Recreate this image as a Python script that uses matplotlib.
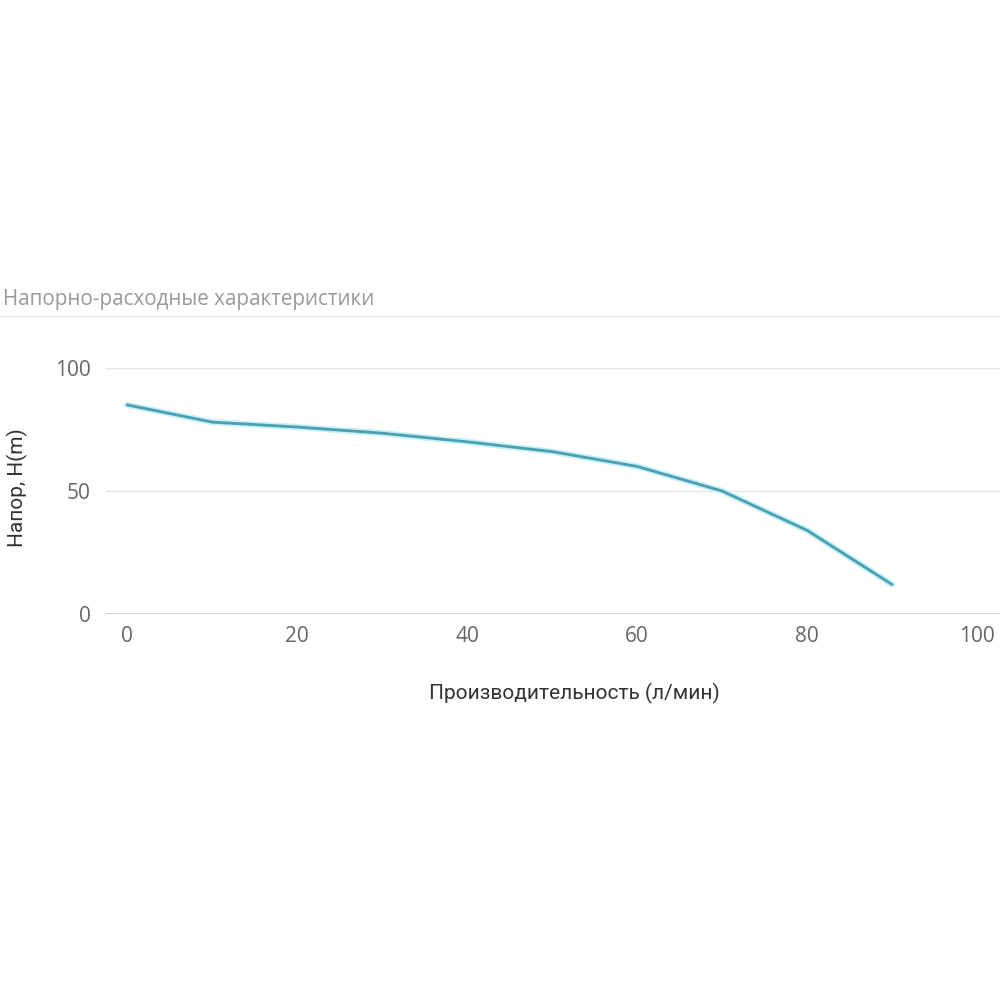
import matplotlib
matplotlib.use('Agg')
import matplotlib.pyplot as plt

flow = [0, 10, 20, 30, 40, 50, 60, 70, 80, 90]
head = [85, 78, 76, 73.5, 70, 66, 60, 50, 34, 12]
x_ticks = [0, 20, 40, 60, 80, 100]
y_ticks = [0, 50, 100]

title = 'Напорно-расходные характеристики'
x_label = 'Производительность (л/мин)'
y_label = 'Напор, H(m)'

fig = plt.figure(figsize=(10, 10), dpi=100)
ax = fig.add_axes([0.106, 0.386, 0.894, 0.246])

# glow under the line
ax.plot(flow, head, color='#c6f0f6', linewidth=4.5, solid_capstyle='round')
ax.plot(flow, head, color='#4a9fb2', linewidth=2, solid_capstyle='round')

ax.set_xlim(-2.5, 102.7)
ax.set_ylim(0, 100)
ax.set_xticks(x_ticks)
ax.set_yticks(y_ticks)
for s in ax.spines.values():
    s.set_visible(False)
for y in y_ticks:
    if y == 0:
        ax.axhline(y, color='#c8c8c8', linewidth=2, zorder=0)
    else:
        ax.axhline(y, color='#e6e6e6', linewidth=1, zorder=0)
ax.tick_params(length=0, labelsize=15, labelcolor='#666666',
               labelfontfamily='Open Sans')
ax.tick_params(axis='x', pad=9)
ax.tick_params(axis='y', pad=11)

fig.text(0.003, 0.700, title, fontsize=14.9, color='#999999',
         family='Open Sans', va='center', ha='left')
fig.add_artist(plt.Line2D([0, 1], [0.684, 0.684], color='#eeeeee', linewidth=1))
fig.text(0.574, 0.307, x_label, fontsize=15, color='#333333',
         family='Roboto', va='center', ha='center')
fig.text(0.017, 0.512, y_label, fontsize=15, color='#333333',
         family='Roboto', va='center', ha='center', rotation=90)

fig.savefig('out.png', dpi=100, facecolor='white')
